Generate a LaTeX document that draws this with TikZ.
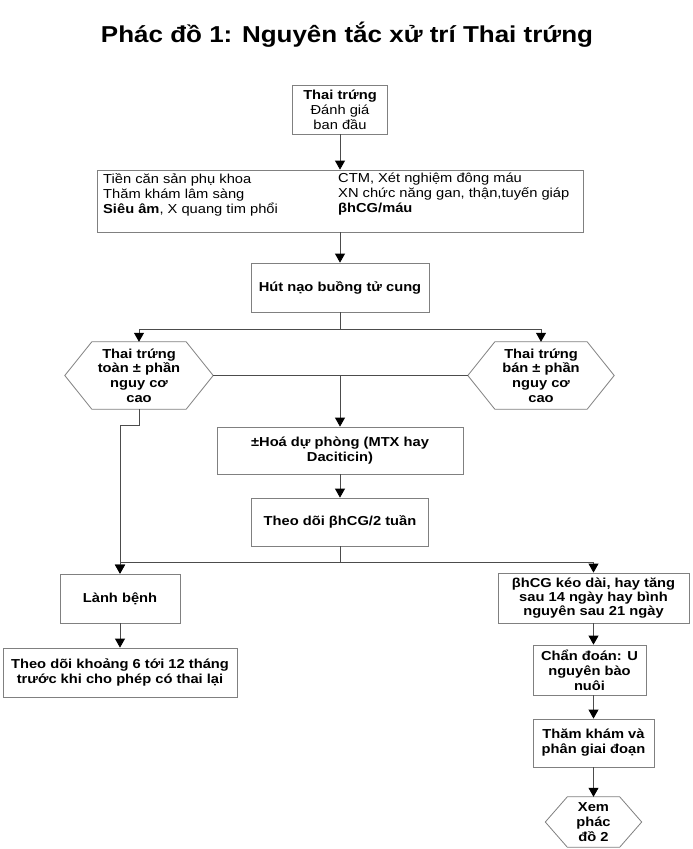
\documentclass[tikz,border=0pt]{standalone}
\usepackage{fontspec}
\setmainfont{Liberation Sans}[FakeStretch=1.13]
\usetikzlibrary{arrows.meta}
\newcommand\myhex[2]{\draw[hexb] (#1.west) -- ([xshift=#2]#1.north west) -- ([xshift=-#2]#1.north east) -- (#1.east) -- ([xshift=-#2]#1.south east) -- ([xshift=#2]#1.south west) -- cycle;}
\begin{document}
\begin{tikzpicture}[x=1pt,y=-1pt,
  box/.style={draw=black!50, line width=0.8pt, rectangle, align=center, inner sep=2pt,
    font=\fontsize{13}{15}\selectfont},
  bbox/.style={box, font=\fontsize{13}{15}\selectfont\bfseries},
  hexa/.style={rectangle, align=center, inner sep=0pt, font=\fontsize{13}{14.7}\selectfont\bfseries},
  hexb/.style={draw=black!50, line width=0.8pt},
  ln/.style={draw=black!70, line width=0.8pt},
  arr/.style={ln, -{Triangle[length=9pt,width=10pt,color=black,fill=black]}},
  coltext/.style={align=left, inner sep=0pt, anchor=north west, font=\fontsize{13}{15}\selectfont},
]
\useasboundingbox (0,0) rectangle (693,849);
\fill[white] (0,0) rectangle (693,849);

\node[font=\fontsize{23}{27}\selectfont\bfseries] (title) at (347,35) {Phác đồ 1: Nguyên tắc xử trí Thai trứng};

\node[box, minimum width=95pt, minimum height=49pt] (b1) at (340,109.5) {\textbf{Thai trứng}\\Đánh giá\\ban đầu};
\node[box, minimum width=486pt, minimum height=62pt] (b2) at (340,201) {};
\node[coltext] (b2l) at (103,173) {Tiền căn sản phụ khoa\\Thăm khám lâm sàng\\\textbf{Siêu âm}, X quang tim phổi};
\node[coltext] (b2r) at (338,173) {CTM, Xét nghiệm đông máu\\XN chức năng gan, thận,tuyến giáp\\\textbf{βhCG/máu}};
\node[bbox, minimum width=178pt, minimum height=49pt] (b3) at (340,287.5) {Hút nạo buồng tử cung};

\node[hexa, minimum width=148pt, minimum height=67pt] (hl) at (139,375.5) {Thai trứng\\toàn ± phần\\nguy cơ\\cao};
\myhex{hl}{27pt}
\node[hexa, minimum width=146pt, minimum height=67pt] (hr) at (541,375.5) {Thai trứng\\bán ± phần\\nguy cơ\\cao};
\myhex{hr}{27pt}

\node[bbox, minimum width=246pt, minimum height=47pt] (b4) at (340,450.5) {±Hoá dự phòng (MTX hay\\Daciticin)};
\node[bbox, minimum width=177pt, minimum height=48pt] (b5) at (340,522) {Theo dõi βhCG/2 tuần};

\node[bbox, minimum width=120pt, minimum height=49pt] (b6) at (120,598.5) {Lành bệnh};
\node[bbox, minimum width=234pt, minimum height=49pt] (b7) at (120,672.5) {Theo dõi khoảng 6 tới 12 tháng\\trước khi cho phép có thai lại};

\node[bbox, minimum width=191pt, minimum height=50pt, font=\fontsize{13}{14.2}\selectfont\bfseries] (b8) at (593.5,598) {βhCG kéo dài, hay tăng\\sau 14 ngày hay bình\\nguyên sau 21 ngày};
\node[bbox, minimum width=113pt, minimum height=50pt, inner sep=0pt] (b9) at (589.5,670) {Chẩn đoán: U\\nguyên bào\\nuôi};
\node[bbox, minimum width=121pt, minimum height=48pt] (b10) at (593.5,743) {Thăm khám và\\phân giai đoạn};
\node[hexa, minimum width=96pt, minimum height=50pt] (hx) at (593.5,822) {Xem\\phác\\đồ 2};
\myhex{hx}{22pt}

% connectors
\draw[arr] (b1.south) -- (b2.north);
\draw[arr] (b2.south) -- (b3.north);
\coordinate (j1) at (340,329);
\draw[ln] (b3.south) -- (j1);
\draw[arr] (j1) -| (hl.north);
\draw[arr] (j1) -| (hr.north);
\draw[ln] (hl.east) -- (hr.west);
\draw[arr] (b4.north |- hl.east) -- (b4.north);
\draw[arr] (b4.south) -- (b5.north);
\coordinate (j2) at (340,562);
\draw[ln] (b5.south) -- (j2);
\draw[arr] (j2) -| (b8.north);
\draw[arr] (j2) -| (b6.north);
\draw[arr] (hl.south) -- ++(0,16) -| (b6.north);
\draw[arr] (b6.south) -- (b7.north);
\draw[arr] (b8.south) -- (b8.south |- b9.north);
\draw[arr] (b8.south |- b9.south) -- (b10.north);
\draw[arr] (b10.south) -- (hx.north);
\end{tikzpicture}
\end{document}
